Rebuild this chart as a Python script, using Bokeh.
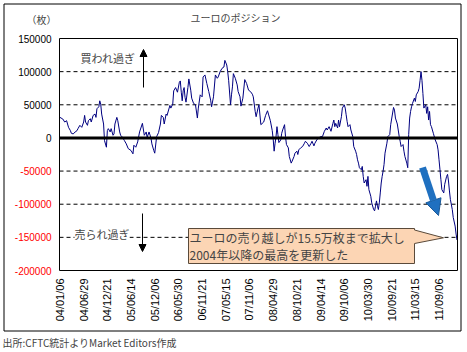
import math
from bokeh.plotting import figure
from bokeh.models import Range1d, Label, ColumnDataSource, Arrow, NormalHead
from bokeh.core.properties import value
from bokeh.embed import file_html
from bokeh.resources import INLINE

# ---------------- data (weekly CFTC net position, contracts) ----------------
weeks = [0, 3, 5, 7, 9, 11, 12, 14, 16, 18, 19, 21, 23, 25, 26, 27, 29, 30, 32, 33, 35, 37, 38, 39, 41, 42,
         43, 44, 46, 47, 49, 50, 51, 53, 54, 56, 57, 58, 60, 61, 63, 64, 66, 68, 70, 72, 75, 77, 78, 80, 82,
         84, 87, 89, 91, 92, 94, 96, 97, 99, 100, 102, 104, 106, 107, 109, 110, 112, 113, 116, 117, 119,
         120, 122, 124, 126, 127, 128, 129, 130, 131, 132, 133, 135, 136,
         138, 139, 141, 143, 145, 146, 148, 150, 151, 153, 155, 157, 159, 160, 162, 164, 166, 167, 169,
         171, 173, 174, 176, 177, 178, 180, 181, 182, 183, 185, 187, 188, 190, 191, 193, 195, 197, 199,
         201, 203, 204, 206, 207, 209, 210,
         212, 215, 217, 219, 220, 222, 224, 225, 226, 227, 228, 229, 230, 231, 233, 234, 235, 237, 238,
         239, 241, 242, 244, 245, 247, 248, 250, 251, 252, 254, 256, 258, 259, 261, 263, 265, 266, 268,
         269, 271, 273, 275, 277,
         279, 281, 282, 284, 286, 288, 289, 290, 291, 293, 294, 295, 297, 298, 300, 301, 302, 303, 304,
         306, 307, 309, 310, 312, 313, 314, 315, 316, 318, 319, 320, 321, 323, 324, 325, 326, 328, 329,
         331, 332, 333, 334, 335, 336, 337, 338, 339, 340, 341, 342, 343, 345, 346,
         348, 349, 352, 353, 354, 356, 358, 359, 360, 362, 363, 364, 366, 367, 368, 369, 370, 371, 372,
         374, 375, 376, 378, 379, 380, 381, 382, 383, 384, 386, 387, 388, 389, 390, 391, 392, 393, 394,
         396, 398, 399, 400, 401, 402, 403, 405, 406, 408, 409, 410, 411, 412, 414, 415, 417, 418, 419]

net_pos = [31000, 28500, 24000, 26000, 16000, 11000, 7000, 6000, 9000, 11000, 14000, 19000, 16000, 24000,
           34000, 24000, 19000, 26000, 29000, 24000, 34000, 36000, 31000, 44000, 47000, 56000,
           51000, 36000, 21000, -4000, -14000, 11000, 14000, 9000, 14000, 4000, 6000, 21000, 31000, 26000,
           9000, 4000, 1000, -4000, -9000, -16000, -19000, -24000, -11000, -14000, -6000,
           9000, 22000, 4000, 9000, 1000, 9000, 0, -9000, -19000, -23000, 2000, 8000, 21000, 34000, 31000,
           21000, 36000, 34000, 49000, 45000, 51000,
           71000, 76000, 69000, 84000, 86000, 69000, 56000, 71000, 76000, 61000, 54000, 76000, 89000,
           72000, 60000, 52000, 50000, 30000, 45000, 65000, 62000, 92000, 95000, 82000, 70000, 57000,
           47000, 62000, 95000, 90000, 92000, 100000,
           105000, 107000, 117000, 110000, 100000, 87000, 50000, 65000, 77000, 97000, 90000, 80000, 70000,
           62000, 48000, 60000, 88000, 82000, 72000,
           70000, 66000, 62000, 40000, 32000, 45000, 50000,
           20000, 24000, 34000, 41000, 36000, 26000, 11000, -2000, -20000, -8000, 2000, 17000, 5000, -7000,
           -3000, 7000, 12000, 20000, 2000,
           -10000, -15000, -28000, -38000, -35000, -28000, -23000, -20000, -25000, -18000, -15000, -13000,
           -8000, -5000, -8000, -13000, -8000, -5000, -12000,
           -8000, -3000, 0, 2000, 2000,
           10000, 15000, 12000, 17000, 10000, 22000, 27000, 17000, 22000, 15000, 27000, 17000, 32000, 45000,
           50000, 45000, 35000, 25000, 17000,
           20000, 12000, 2000, -13000, -20000, -25000, -33000, -38000, -45000, -48000, -43000, -58000,
           -68000, -63000, -73000, -58000, -78000, -88000, -98000,
           -108000, -110000, -103000, -95000, -103000, -108000, -98000, -83000, -68000, -58000, -50000,
           -40000, -23000, -8000, 2000,
           5000, 20000, 46000, 42000, 30000, 21000, 2000, -5000, -13000, -10000, -20000, -28000, -38000,
           -45000, 5000, 30000, 40000, 47000, 52000,
           60000, 55000, 65000, 70000, 75000, 87000, 100000, 87000, 67000, 45000, 50000, 37000, 47000,
           27000, 40000, 20000, 17000, 12000, 7000,
           -3000, -10000, -18000, -33000, -48000, -63000, -78000, -83000, -70000, -58000, -55000, -65000,
           -80000, -93000, -108000, -120000, -133000, -145000, -154000]

tick_labels = ["04/01/06", "04/06/29", "04/12/21", "05/06/14", "05/12/06", "06/05/30", "06/11/21",
               "07/05/15", "07/11/06", "08/04/29", "08/10/21", "09/04/14", "09/10/06", "10/03/30",
               "10/09/21", "11/03/15", "11/09/06"]
label_step = 25  # weeks between category labels

y_ticks = [150000, 100000, 50000, 0, -50000, -100000, -150000, -200000]
grid_levels = [100000, 50000, -50000, -100000, -150000]

title_text = "ユーロのポジション"
unit_text = "（枚）"
source_text = "出所:CFTC統計よりMarket Editors作成"
over_bought = "買われ過ぎ"
over_sold = "売られ過ぎ"
callout_1 = "ユーロの売り越しが15.5万枚まで拡大し"
callout_2 = "2004年以降の最高を更新した"

# ---------------- layout helpers ----------------
W, H = 467, 352
FL, FR, FT, FB = 59, 457, 38, 270          # plot-area box in pixels
X0, X1 = -0.5, 419.5                       # plot-area data extent (week index)
Y0, Y1 = -200000, 150000                   # plot-area data extent (contracts)


def px_x(X):
    return X0 + (X - FL) * (X1 - X0) / (FR - FL)


def px_y(Y):
    return Y1 - (Y - FT) * (Y1 - Y0) / (FB - FT)


JP = "Noto Sans CJK JP"
NUM = "Liberation Sans"

# the figure frame covers the whole canvas so that nothing (titles, tick labels, borders) is clipped
p = figure(width=W, height=H,
           x_range=Range1d(px_x(0), px_x(W)), y_range=Range1d(px_y(H), px_y(0)),
           output_backend="svg", toolbar_location=None, min_border=0)
p.title.visible = False
p.xaxis.visible = False
p.yaxis.visible = False
p.xgrid.visible = False
p.ygrid.visible = False
p.outline_line_color = None
p.background_fill_color = "white"
p.border_fill_color = "white"

# outer chart border
p.quad(left=px_x(3.5), right=px_x(460.5), top=px_y(3.5), bottom=px_y(330.5),
       fill_color=None, line_color="black", line_width=1)

# dashed grid lines
p.segment(x0=[X0] * len(grid_levels), x1=[X1] * len(grid_levels), y0=grid_levels, y1=grid_levels,
          line_color="black", line_width=1, line_dash="4 3")

# data line and zero line
p.line(weeks, net_pos, line_color="#000080", line_width=1)
p.segment(x0=[X0], x1=[X1], y0=[0], y1=[0], line_color="black", line_width=3)

# plot-area border
p.quad(left=X0, right=X1, top=Y1, bottom=Y0, fill_color=None, line_color="black", line_width=1)

# y tick labels (negative values in red)
ysrc = ColumnDataSource(dict(
    y=y_ticks,
    x=[px_x(51)] * len(y_ticks),
    text=[str(v) for v in y_ticks],
    color=["black" if v >= 0 else "#FF0000" for v in y_ticks],
))
p.text(x="x", y="y", text="text", source=ysrc, text_color="color",
       text_align="right", text_baseline="middle",
       text_font=value(NUM), text_font_size="10px")

# x tick labels (vertical)
tick_pos = [i * label_step for i in range(len(tick_labels))]
xsrc = ColumnDataSource(dict(x=tick_pos, y=[px_y(278)] * len(tick_pos), text=tick_labels))
p.text(x="x", y="y", text="text", source=xsrc, angle=math.pi / 2,
       text_align="right", text_baseline="middle", text_color="black",
       text_font=value(NUM), text_font_size="11px")

# titles and notes
p.add_layout(Label(x=px_x(235), y=px_y(17), text=title_text, text_align="center",
                   text_baseline="middle", text_font=JP, text_font_size="10px"))
p.add_layout(Label(x=px_x(41), y=px_y(19), text=unit_text, text_align="center",
                   text_baseline="middle", text_font=JP, text_font_size="10px"))
p.add_layout(Label(x=px_x(2), y=px_y(342), text=source_text, text_align="left",
                   text_baseline="middle", text_font=JP, text_font_size="10px"))

# overbought / oversold notes
p.add_layout(Label(x=px_x(80), y=px_y(57.5), text=over_bought, text_align="left",
                   text_baseline="middle", text_font=JP, text_font_size="11px"))
p.add_layout(Arrow(end=NormalHead(size=7, fill_color="black", line_color="black"),
                   x_start=px_x(143), y_start=px_y(87), x_end=px_x(143), y_end=px_y(49),
                   line_color="black", line_width=1))
p.add_layout(Label(x=px_x(74), y=px_y(233), text=over_sold, text_align="left",
                   text_baseline="middle", text_font=JP, text_font_size="11px",
                   background_fill_color="white"))
p.add_layout(Arrow(end=NormalHead(size=7, fill_color="black", line_color="black"),
                   x_start=px_x(142), y_start=px_y(213), x_end=px_x(142), y_end=px_y(251),
                   line_color="black", line_width=1))

# callout box with pointer
cx = [px_x(v) for v in (188, 414, 414, 443, 414, 414, 188)]
cy = [px_y(v) for v in (228, 228, 229.5, 237.3, 243, 263, 263)]
p.patch(cx, cy, fill_color="#FCD5B4", line_color="#5a4a3a", line_width=1)
p.add_layout(Label(x=px_x(189), y=px_y(236.5), text=callout_1, text_align="left",
                   text_baseline="middle", text_font=JP, text_font_size="12px"))
p.add_layout(Label(x=px_x(189), y=px_y(254), text=callout_2, text_align="left",
                   text_baseline="middle", text_font=JP, text_font_size="12px"))

# blue pointer arrow
p.add_layout(Arrow(end=NormalHead(size=16, fill_color="#1F70C0", line_color="#1a5a9a"),
                   x_start=px_x(422), y_start=px_y(167), x_end=px_x(438), y_end=px_y(215),
                   line_color="#1F70C0", line_width=7))

open("out.html", "w").write(file_html(p, INLINE))
